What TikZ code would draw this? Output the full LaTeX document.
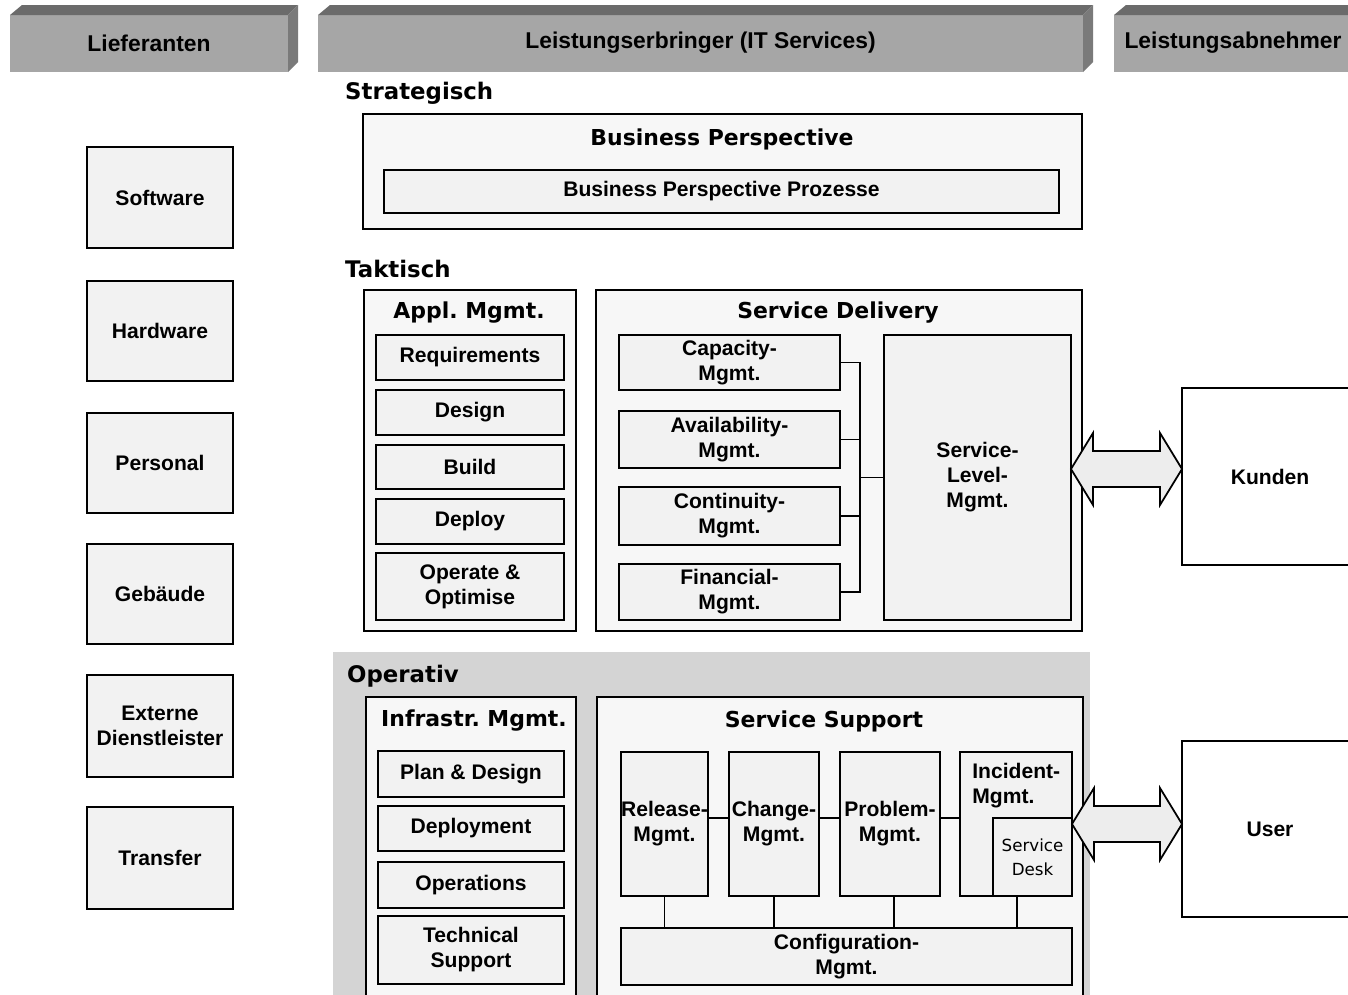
\documentclass[tikz,border=0pt]{standalone}
\usepackage{fontspec}
\setmainfont{Liberation Sans}
\newfontfamily\titlefont{DejaVu Sans}
\usetikzlibrary{calc,shadows}
\frenchspacing

% rectangle node given by its corners: [options]{name}{x1}{y1}{x2}{y2}{text}
\newcommand\rbox[7][]{%
  \node[box,#1,minimum width={(#5-#3)*0.02cm},minimum height={(#6-#4)*0.02cm}]
    (#2) at ({(#3+#5)/2},{(#4+#6)/2}) {#7};}

% bevelled header bar: {x1}{x2}{name}{text}
\newcommand\headbar[4]{%
  \fill[black!35] (#1,15) rectangle (#2-10,72);
  \fill[black!58] (#1,15) -- (#1+12,5) -- (#2,5) -- (#2-10,15) -- cycle;
  \fill[black!52] (#2-10,15) -- (#2,5) -- (#2,62) -- (#2-10,72) -- cycle;
  \node[hdr] (#3) at ({(#1+#2-10)/2},43) {#4};}

\tikzset{
  box/.style={draw, line width=1pt, fill=black!5, inner sep=0pt, outer sep=0pt,
              align=center, font=\bfseries\fontsize{12}{14.2}\selectfont},
  frame/.style={box, fill=white!97!black},
  sbox/.style={box, drop shadow={shadow xshift=0.7pt, shadow yshift=-0.7pt,
              fill=black, opacity=0.8}},
  hdr/.style={font=\bfseries\fontsize{13}{15}\selectfont},
  level/.style={anchor=west, font=\titlefont\bfseries\fontsize{13}{15}\selectfont},
  ttl/.style={font=\titlefont\bfseries\fontsize{12.5}{15}\selectfont},
  link/.style={line width=0.9pt},
  dbl/.style={draw, line width=1pt, fill=black!7, line join=miter}
}

\begin{document}
\begin{tikzpicture}[x=0.02cm, y=-0.02cm]
\useasboundingbox (0,0) rectangle (1348,994);
\fill[white] (0,0) rectangle (1348,994);

% column headers
\headbar{10}{298}{hl}{Lieferanten}
\headbar{318}{1093}{hm}{Leistungserbringer (IT Services)}
\fill[black!35] (1114,15) rectangle (1360,72);
\fill[black!58] (1114,15) -- (1126,5) -- (1360,5) -- (1360,15) -- cycle;
\node[hdr] (hr) at (1233,43) {Leistungsabnehmer};

% suppliers
\rbox[sbox]{sw}{87}{147}{233}{248}{Software}
\rbox[sbox]{hw}{87}{281}{233}{381}{Hardware}
\rbox[sbox]{ps}{87}{413}{233}{513}{Personal}
\rbox[sbox]{gb}{87}{544}{233}{644}{Gebäude}
\rbox[sbox]{ed}{87}{675}{233}{777}{Externe\\Dienstleister}
\rbox[sbox]{tf}{87}{807}{233}{909}{Transfer}

% strategic level
\node[level] (lst) at (339,93) {Strategisch};
\rbox[frame]{bp}{363}{114}{1082}{229}{}
\node[ttl] (bpt) at (722,139) {Business Perspective};
\rbox[sbox]{bpp}{384}{170}{1059}{213}{Business Perspective Prozesse}

% tactical level
\node[level] (lta) at (339,269) {Taktisch};
\rbox[frame]{am}{364}{290}{576}{631}{}
\node[ttl] (amt) at (469,313) {Appl. Mgmt.};
\rbox[sbox]{req}{376}{335}{564}{380}{Requirements}
\rbox[sbox]{des}{376}{390}{564}{435}{Design}
\rbox[sbox]{bld}{376}{445}{564}{489}{Build}
\rbox[sbox]{dep}{376}{499}{564}{544}{Deploy}
\rbox[sbox]{opo}{376}{553}{564}{620}{Operate \&\\Optimise}

\rbox[frame]{sd}{596}{290}{1082}{631}{}
\node[ttl] (sdt) at (838,313) {Service Delivery};
\rbox[sbox]{cap}{619}{335}{840}{390}{Capacity-\\Mgmt.}
\rbox[sbox]{avl}{619}{411}{840}{468}{Availability-\\Mgmt.}
\rbox[sbox]{con}{619}{487}{840}{545}{Continuity-\\Mgmt.}
\rbox[sbox]{fin}{619}{564}{840}{620}{Financial-\\Mgmt.}
\rbox{slm}{884}{335}{1071}{620}{Service-\\Level-\\Mgmt.}

\coordinate (bus) at (860,0);
\draw[link] (cap.east) -- (cap.east -| bus) -- (fin.east -| bus) -- (fin.east);
\draw[link] (avl.east) -- (avl.east -| bus);
\draw[link] (con.east) -- (con.east -| bus);
\draw[link] (slm.west -| bus) -- (slm.west);

% operational level
\fill[black!17] (333,652) rectangle (1090,1000);
\node[level] (lop) at (341,676) {Operativ};
\rbox[frame]{im}{366}{697}{576}{1000}{}
\node[ttl] (imt) at (474,721) {Infrastr. Mgmt.};
\rbox[sbox]{pld}{378}{751}{564}{797}{Plan \& Design}
\rbox[sbox]{dpl}{378}{806}{564}{851}{Deployment}
\rbox[sbox]{ops}{378}{862}{564}{908}{Operations}
\rbox[sbox]{tsp}{378}{916}{564}{984}{Technical\\Support}

\rbox[frame]{ss}{597}{697}{1083}{1000}{}
\node[ttl] (sst) at (824,721) {Service Support};
\rbox{rel}{621}{752}{708}{896}{Release-\\Mgmt.}
\rbox{chg}{729}{752}{819}{896}{Change-\\Mgmt.}
\rbox{prb}{840}{752}{940}{896}{Problem-\\Mgmt.}
\rbox{inc}{960}{752}{1072}{896}{}
\node[anchor=north west, align=left, inner sep=0pt,
      font=\bfseries\fontsize{12}{14.2}\selectfont] (inct) at (972,763) {Incident-\\Mgmt.};
\rbox[font=\titlefont\fontsize{9.5}{13.5}\selectfont]{sdk}{993}{818}{1072}{896}{Service\\Desk}
\rbox{cfg}{621}{928}{1072}{985}{Configuration-\\Mgmt.}

\coordinate (lk) at (0,818);
\draw[link] (rel.east |- lk) -- (chg.west |- lk);
\draw[link] (chg.east |- lk) -- (prb.west |- lk);
\draw[link] (prb.east |- lk) -- (inc.west |- lk);
\draw[link] (rel.south) -- (rel.south |- cfg.north);
\draw[link] (chg.south) -- (chg.south |- cfg.north);
\draw[link] ([xshift=4*0.02cm]prb.south) -- ([xshift=4*0.02cm]prb.south |- cfg.north);
\coordinate (sdl) at (1017,896);
\draw[link] (sdl) -- (sdl |- cfg.north);

% customers
\rbox[fill=white]{kd}{1182}{388}{1358}{565}{Kunden}
\rbox[fill=white]{us}{1182}{741}{1358}{917}{User}

% double arrows between provider and customers
\coordinate (ka) at (1071,469);
\coordinate (kb) at (kd.west |- ka);
\coordinate (ua) at (1072,824);
\coordinate (ub) at (us.west |- ua);
\foreach \a/\b in {ka/kb, ua/ub}{
  \draw[dbl] (\a) -- ($(\a)+(22,-36)$) -- ($(\a)+(22,-18)$) -- ($(\b)+(-22,-18)$)
    -- ($(\b)+(-22,-36)$) -- (\b) -- ($(\b)+(-22,36)$) -- ($(\b)+(-22,18)$)
    -- ($(\a)+(22,18)$) -- ($(\a)+(22,36)$) -- cycle;
}
\end{tikzpicture}
\end{document}
